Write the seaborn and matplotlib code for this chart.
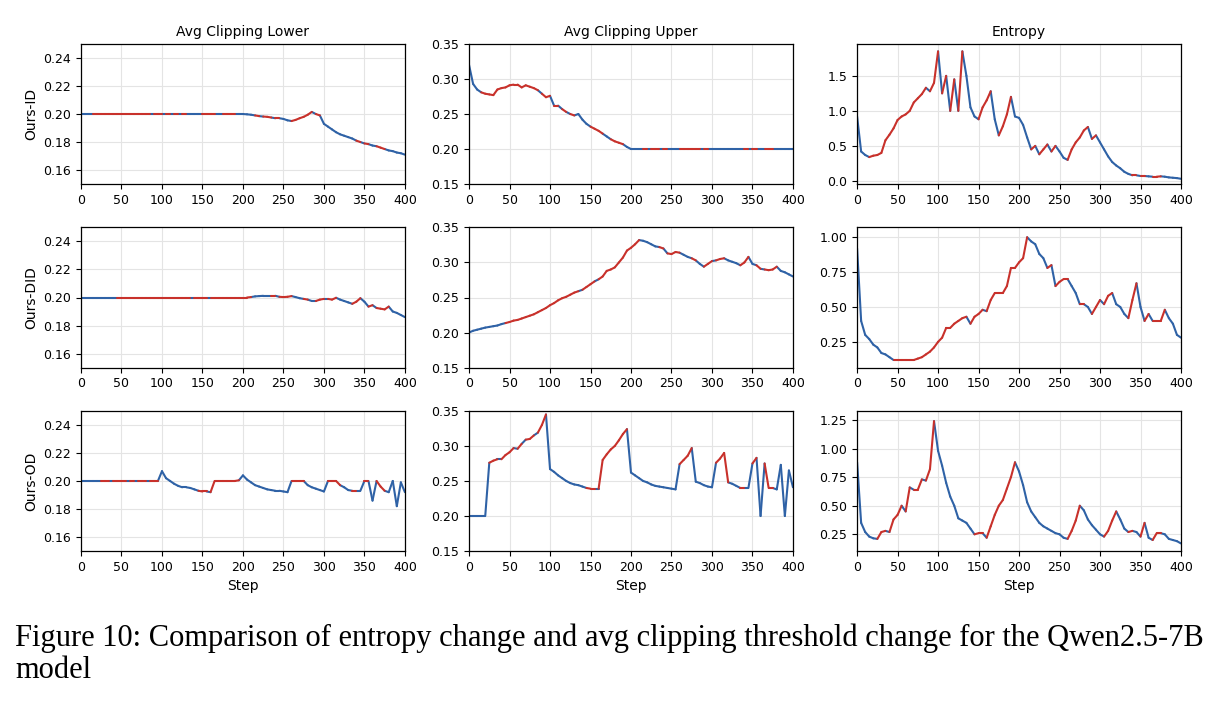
import pandas as pd
import matplotlib.pyplot as plt
import seaborn as sns

# shared step grid (values read every 5 steps)
STEPS = list(range(0, 401, 5))

ROW_NAMES = ["Ours-ID", "Ours-DID", "Ours-OD"]
COL_TITLES = ["Avg Clipping Lower", "Avg Clipping Upper", "Entropy"]

ID_ENTROPY = [
    0.92, 0.42, 0.37, 0.34, 0.36, 0.37, 0.40, 0.58, 0.66, 0.75,
    0.87, 0.92, 0.95, 1.00, 1.12, 1.18, 1.24, 1.33, 1.28, 1.40,
    1.85, 1.25, 1.50, 1.00, 1.45, 1.00, 1.85, 1.50, 1.05, 0.92,
    0.88, 1.05, 1.15, 1.28, 0.88, 0.65, 0.78, 0.95, 1.20, 0.92,
    0.90, 0.80, 0.62, 0.45, 0.50, 0.38, 0.45, 0.52, 0.42, 0.50,
    0.42, 0.33, 0.30, 0.45, 0.55, 0.62, 0.72, 0.77, 0.60, 0.65,
    0.55, 0.45, 0.35, 0.27, 0.22, 0.18, 0.13, 0.10, 0.08, 0.08,
    0.07, 0.07, 0.065, 0.06, 0.06, 0.065, 0.06, 0.05, 0.045, 0.04,
    0.03,
]
ID_LOWER = [
    0.200, 0.200, 0.200, 0.200, 0.200, 0.200, 0.200, 0.200, 0.200, 0.200,
    0.200, 0.200, 0.200, 0.200, 0.200, 0.200, 0.200, 0.200, 0.200, 0.200,
    0.200, 0.200, 0.200, 0.200, 0.200, 0.200, 0.200, 0.200, 0.200, 0.200,
    0.200, 0.200, 0.200, 0.200, 0.200, 0.200, 0.200, 0.200, 0.200, 0.200,
    0.200, 0.1998, 0.1995, 0.199, 0.1985, 0.1982, 0.198, 0.1975, 0.197, 0.197,
    0.1965, 0.1955, 0.195, 0.1958, 0.197, 0.198, 0.1995, 0.2015, 0.200, 0.199,
    0.193, 0.191, 0.189, 0.187, 0.1855, 0.1845, 0.1835, 0.1825, 0.181, 0.180,
    0.179, 0.1785, 0.1775, 0.177, 0.176, 0.175, 0.174, 0.1735, 0.1725, 0.172,
    0.171,
]
ID_UPPER = [
    0.320, 0.293, 0.285, 0.281, 0.279, 0.278, 0.277, 0.285, 0.287, 0.288,
    0.291, 0.292, 0.292, 0.288, 0.291, 0.289, 0.287, 0.284, 0.279, 0.274,
    0.276, 0.262, 0.262, 0.257, 0.253, 0.250, 0.248, 0.250, 0.242, 0.236,
    0.232, 0.229, 0.226, 0.222, 0.218, 0.214, 0.211, 0.209, 0.207, 0.203,
    0.200, 0.200, 0.200, 0.200, 0.200, 0.200, 0.200, 0.200, 0.200, 0.200,
    0.200, 0.200, 0.200, 0.200, 0.200, 0.200, 0.200, 0.200, 0.200, 0.200,
    0.200, 0.200, 0.200, 0.200, 0.200, 0.200, 0.200, 0.200, 0.200, 0.200,
    0.200, 0.200, 0.200, 0.200, 0.200, 0.200, 0.200, 0.200, 0.200, 0.200,
    0.200,
]

DID_ENTROPY = [
    0.92, 0.40, 0.30, 0.27, 0.23, 0.21, 0.17, 0.16, 0.14, 0.12,
    0.12, 0.12, 0.12, 0.12, 0.12, 0.13, 0.14, 0.16, 0.18, 0.21,
    0.25, 0.28, 0.35, 0.35, 0.38, 0.40, 0.42, 0.43, 0.38, 0.43,
    0.45, 0.48, 0.47, 0.55, 0.60, 0.60, 0.60, 0.65, 0.78, 0.78,
    0.82, 0.85, 1.00, 0.97, 0.95, 0.88, 0.85, 0.78, 0.80, 0.65,
    0.68, 0.70, 0.70, 0.65, 0.60, 0.52, 0.52, 0.50, 0.45, 0.50,
    0.55, 0.52, 0.58, 0.60, 0.52, 0.50, 0.45, 0.42, 0.55, 0.67,
    0.50, 0.40, 0.45, 0.40, 0.40, 0.40, 0.48, 0.42, 0.38, 0.30,
    0.28,
]
DID_LOWER = [
    0.200, 0.200, 0.200, 0.200, 0.200, 0.200, 0.200, 0.200, 0.200, 0.200,
    0.200, 0.200, 0.200, 0.200, 0.200, 0.200, 0.200, 0.200, 0.200, 0.200,
    0.200, 0.200, 0.200, 0.200, 0.200, 0.200, 0.200, 0.200, 0.200, 0.200,
    0.200, 0.200, 0.200, 0.200, 0.200, 0.200, 0.200, 0.200, 0.200, 0.200,
    0.200, 0.200, 0.2003, 0.2008, 0.201, 0.2012, 0.2012, 0.2012, 0.2012, 0.2005,
    0.2003, 0.2005, 0.201, 0.2003, 0.1995, 0.199, 0.1985, 0.1975, 0.1975, 0.1985,
    0.199, 0.199, 0.1985, 0.1998, 0.1985, 0.1975, 0.1965, 0.1955, 0.197, 0.1995,
    0.197, 0.1935, 0.1945, 0.1925, 0.192, 0.1915, 0.1935, 0.190, 0.189, 0.1875,
    0.186,
]
DID_UPPER = [
    0.200, 0.2025, 0.204, 0.2055, 0.207, 0.208, 0.209, 0.210, 0.212, 0.2135,
    0.215, 0.217, 0.218, 0.220, 0.222, 0.224, 0.226, 0.229, 0.232, 0.235,
    0.239, 0.242, 0.246, 0.249, 0.251, 0.254, 0.257, 0.259, 0.261, 0.265,
    0.269, 0.273, 0.276, 0.280, 0.288, 0.290, 0.293, 0.300, 0.307, 0.317,
    0.321, 0.326, 0.332, 0.331, 0.329, 0.326, 0.323, 0.322, 0.320, 0.313,
    0.312, 0.315, 0.314, 0.311, 0.308, 0.306, 0.303, 0.298, 0.294, 0.298,
    0.302, 0.303, 0.305, 0.306, 0.303, 0.301, 0.299, 0.296, 0.300, 0.308,
    0.298, 0.296, 0.291, 0.290, 0.289, 0.290, 0.294, 0.288, 0.286, 0.283,
    0.280,
]

OD_ENTROPY = [
    0.88, 0.35, 0.27, 0.23, 0.215, 0.21, 0.27, 0.28, 0.27, 0.38,
    0.42, 0.50, 0.45, 0.66, 0.64, 0.64, 0.73, 0.72, 0.82, 1.24,
    0.98, 0.85, 0.70, 0.58, 0.50, 0.39, 0.37, 0.35, 0.30, 0.25,
    0.26, 0.26, 0.22, 0.32, 0.42, 0.50, 0.55, 0.65, 0.75, 0.88,
    0.80, 0.68, 0.53, 0.45, 0.40, 0.35, 0.32, 0.30, 0.28, 0.26,
    0.25, 0.22, 0.21, 0.28, 0.37, 0.50, 0.46, 0.38, 0.33, 0.29,
    0.25, 0.23, 0.28, 0.37, 0.45, 0.38, 0.30, 0.27, 0.28, 0.27,
    0.23, 0.35, 0.22, 0.20, 0.26, 0.26, 0.25, 0.21, 0.20, 0.19,
    0.17,
]
OD_LOWER = [
    0.200, 0.200, 0.200, 0.200, 0.200, 0.200, 0.200, 0.200, 0.200, 0.200,
    0.200, 0.200, 0.200, 0.200, 0.200, 0.200, 0.200, 0.200, 0.200, 0.200,
    0.207, 0.202, 0.200, 0.198, 0.1965, 0.1955, 0.1955, 0.195, 0.194, 0.193,
    0.1925, 0.1925, 0.192, 0.200, 0.200, 0.200, 0.200, 0.200, 0.200, 0.2005,
    0.204, 0.201, 0.199, 0.197, 0.196, 0.195, 0.194, 0.1935, 0.193, 0.193,
    0.1925, 0.192, 0.200, 0.200, 0.200, 0.200, 0.197, 0.1955, 0.1945, 0.1935,
    0.1925, 0.200, 0.200, 0.200, 0.197, 0.1955, 0.1935, 0.193, 0.193, 0.193,
    0.200, 0.200, 0.186, 0.200, 0.196, 0.193, 0.192, 0.200, 0.182, 0.199,
    0.192,
]
OD_UPPER = [
    0.200, 0.200, 0.200, 0.200, 0.200, 0.276, 0.279, 0.281, 0.281, 0.287,
    0.291, 0.297, 0.296, 0.303, 0.309, 0.310, 0.315, 0.319, 0.330, 0.345,
    0.267, 0.263, 0.258, 0.254, 0.250, 0.247, 0.245, 0.244, 0.242, 0.240,
    0.239, 0.239, 0.239, 0.280, 0.288, 0.295, 0.300, 0.308, 0.317, 0.324,
    0.262, 0.258, 0.254, 0.250, 0.248, 0.245, 0.243, 0.242, 0.241, 0.240,
    0.239, 0.238, 0.274, 0.280, 0.286, 0.297, 0.249, 0.247, 0.244, 0.242,
    0.241, 0.276, 0.282, 0.290, 0.248, 0.246, 0.243, 0.240, 0.240, 0.240,
    0.275, 0.283, 0.200, 0.275, 0.240, 0.240, 0.238, 0.273, 0.200, 0.265,
    0.241,
]

ROWS = [
    (ID_LOWER, ID_UPPER, ID_ENTROPY),
    (DID_LOWER, DID_UPPER, DID_ENTROPY),
    (OD_LOWER, OD_UPPER, OD_ENTROPY),
]

RED = "#c8312b"
BLUE = "#2f62a6"
ENTROPY_YLIM = [(-0.045, 1.955), (0.066, 1.07), (0.104, 1.329)]


def segments(steps, values, entropy):
    # one two-point segment per step interval, coloured by entropy trend
    recs = []
    for i in range(len(steps) - 1):
        trend = "up" if entropy[i + 1] >= entropy[i] else "down"
        recs.append((i, steps[i], values[i], trend))
        recs.append((i, steps[i + 1], values[i + 1], trend))
    return pd.DataFrame(recs, columns=["seg", "step", "value", "trend"])


def main():
    sns.set_style("ticks", {"axes.grid": True, "grid.color": "#e4e4e4",
                            "axes.edgecolor": "black"})
    plt.rcParams.update({
        "font.family": ["DejaVu Sans"],
        "text.color": "black",
        "axes.labelcolor": "black",
        "xtick.color": "black",
        "ytick.color": "black",
    })

    fig, axes = plt.subplots(3, 3, figsize=(12.18, 7.02), dpi=100)
    fig.subplots_adjust(left=81 / 1218, right=1181 / 1218,
                        top=1 - 44 / 702, bottom=1 - 551 / 702,
                        wspace=0.198, hspace=0.31)

    for r, (lower, upper, entropy) in enumerate(ROWS):
        for c, series in enumerate((lower, upper, entropy)):
            ax = axes[r, c]
            df = segments(STEPS, series, entropy)
            sns.lineplot(data=df, x="step", y="value", hue="trend",
                         units="seg", estimator=None,
                         palette={"up": RED, "down": BLUE},
                         legend=False, linewidth=1.5,
                         solid_capstyle="round", ax=ax)
            ax.set_xlim(0, 400)
            ax.set_xticks(range(0, 401, 50))
            if c == 0:
                ax.set_ylim(0.15, 0.25)
                ax.set_yticks([0.16, 0.18, 0.20, 0.22, 0.24])
                ax.yaxis.set_major_formatter("{x:.2f}")
                ax.set_ylabel(ROW_NAMES[r], fontsize=10)
            elif c == 1:
                ax.set_ylim(0.15, 0.35)
                ax.set_yticks([0.15, 0.20, 0.25, 0.30, 0.35])
                ax.yaxis.set_major_formatter("{x:.2f}")
                ax.set_ylabel("")
            else:
                ax.set_ylim(*ENTROPY_YLIM[r])
                if r == 0:
                    ax.set_yticks([0.0, 0.5, 1.0, 1.5])
                    ax.yaxis.set_major_formatter("{x:.1f}")
                elif r == 1:
                    ax.set_yticks([0.25, 0.50, 0.75, 1.00])
                    ax.yaxis.set_major_formatter("{x:.2f}")
                else:
                    ax.set_yticks([0.25, 0.50, 0.75, 1.00, 1.25])
                    ax.yaxis.set_major_formatter("{x:.2f}")
                ax.set_ylabel("")
            if r == 0:
                ax.set_title(COL_TITLES[c], fontsize=10)
            ax.set_xlabel("Step" if r == 2 else "", fontsize=10)
            ax.tick_params(labelsize=9, length=3.5, width=0.8)
            ax.grid(True, color="#e4e4e4", linewidth=0.8)
            for sp in ax.spines.values():
                sp.set_linewidth(0.9)
                sp.set_color("black")

    cap = dict(family=["Liberation Serif", "DejaVu Serif"], fontsize=22)
    fig.text(15 / 1218, 1 - 646 / 702,
             "Figure 10: Comparison of entropy change and avg clipping "
             "threshold change for the Qwen2.5-7B", va="baseline", **cap)
    fig.text(15 / 1218, 1 - 678 / 702, "model", va="baseline", **cap)

    fig.savefig("out.png", dpi=100, facecolor="white")
    plt.close(fig)


if __name__ == "__main__":
    main()
